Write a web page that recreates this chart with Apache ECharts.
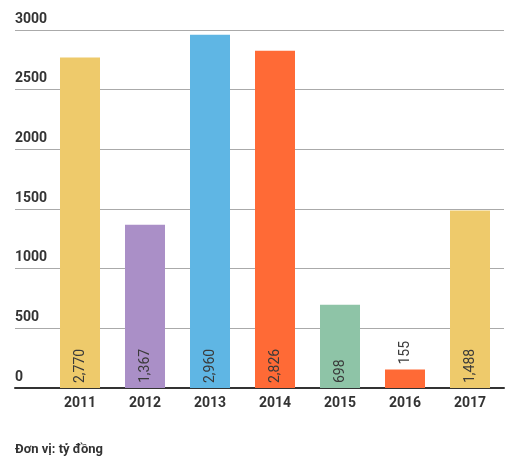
<!DOCTYPE html>
<html lang="vi">
<head>
	<meta charset="UTF-8">
	<title>Biểu đồ</title>
	<script src="https://cdn.jsdelivr.net/npm/echarts@6/dist/echarts.min.js"></script>
	<style>
		html, body { margin: 0; padding: 0; background: #fff; }
		#main { width: 512px; height: 460px; }
	</style>
</head>
<body>
	<div id="main"></div>
<script>
// du lieu
var years = ['2011', '2012', '2013', '2014', '2015', '2016', '2017'];
var values = [2770, 1367, 2960, 2826, 698, 155, 1488];
var valueLabels = ['2,770', '1,367', '2,960', '2,826', '698', '155', '1,488'];
var barColors = ['#EECA6B', '#AA8FC7', '#5FB6E4', '#FF6A36', '#8EC4A7', '#FF6A36', '#EECA6B'];
var yTicks = [0, 500, 1000, 1500, 2000, 2500, 3000];
var unitNote = 'Đơn vị: tỷ đồng';

var font = 'Roboto, "Noto Sans", sans-serif';
var chart = echarts.init(document.getElementById('main'));

var barData = values.map(function (v, i) {
	var item = {
		value: v,
		itemStyle: { color: barColors[i] }
	};
	// cot nho qua thi nhan nam phia tren
	if (v < 400) {
		item.label = { position: 'top', distance: 5 };
	}
	return item;
});

var option = {
	animation: false,
	grid: [
		{ left: 15, right: 8, top: 30, bottom: 72 },
		{ left: 47.5, right: 9.5, top: 30, bottom: 72 }
	],
	xAxis: [
		{
			gridIndex: 0,
			type: 'value',
			min: 0,
			max: 1,
			axisLine: { show: true, lineStyle: { color: '#333', width: 2 } },
			axisTick: { show: false },
			axisLabel: { show: false },
			splitLine: { show: false }
		},
		{
			gridIndex: 1,
			type: 'category',
			data: years,
			axisLine: { show: false },
			axisTick: { show: false },
			axisLabel: {
				color: '#333',
				fontFamily: font,
				fontSize: 14,
				fontWeight: 'bold',
				margin: 8
			}
		}
	],
	yAxis: [
		{
			gridIndex: 0,
			type: 'value',
			min: yTicks[0],
			max: yTicks[yTicks.length - 1],
			interval: 500,
			axisLine: { show: false },
			axisTick: { show: false },
			splitLine: { lineStyle: { color: '#AAAAAA', width: 1 } },
			axisLabel: {
				inside: true,
				margin: 0,
				align: 'left',
				verticalAlign: 'bottom',
				padding: [0, 0, 4, 0],
				color: '#333',
				fontFamily: font,
				fontSize: 14,
				fontWeight: 'bold',
				formatter: function (v) { return String(v); }
			}
		},
		{
			gridIndex: 1,
			type: 'value',
			min: yTicks[0],
			max: yTicks[yTicks.length - 1],
			show: false,
			splitLine: { show: false }
		}
	],
	series: [
		{
			type: 'bar',
			xAxisIndex: 1,
			yAxisIndex: 1,
			barWidth: 40,
			data: barData,
			z: 1,
			label: {
				show: true,
				position: 'insideBottom',
				distance: 5,
				rotate: 90,
				align: 'left',
				verticalAlign: 'middle',
				color: '#3a3a3a',
				fontFamily: font,
				fontSize: 14,
				formatter: function (p) {
					return valueLabels[p.dataIndex];
				}
			}
		}
	],
	graphic: [
		{
			type: 'text',
			left: 15,
			top: 443,
			style: {
				text: unitNote,
				fill: '#333',
				font: 'bold 13px ' + font
			}
		}
	]
};

chart.setOption(option);
</script>
</body>
</html>
